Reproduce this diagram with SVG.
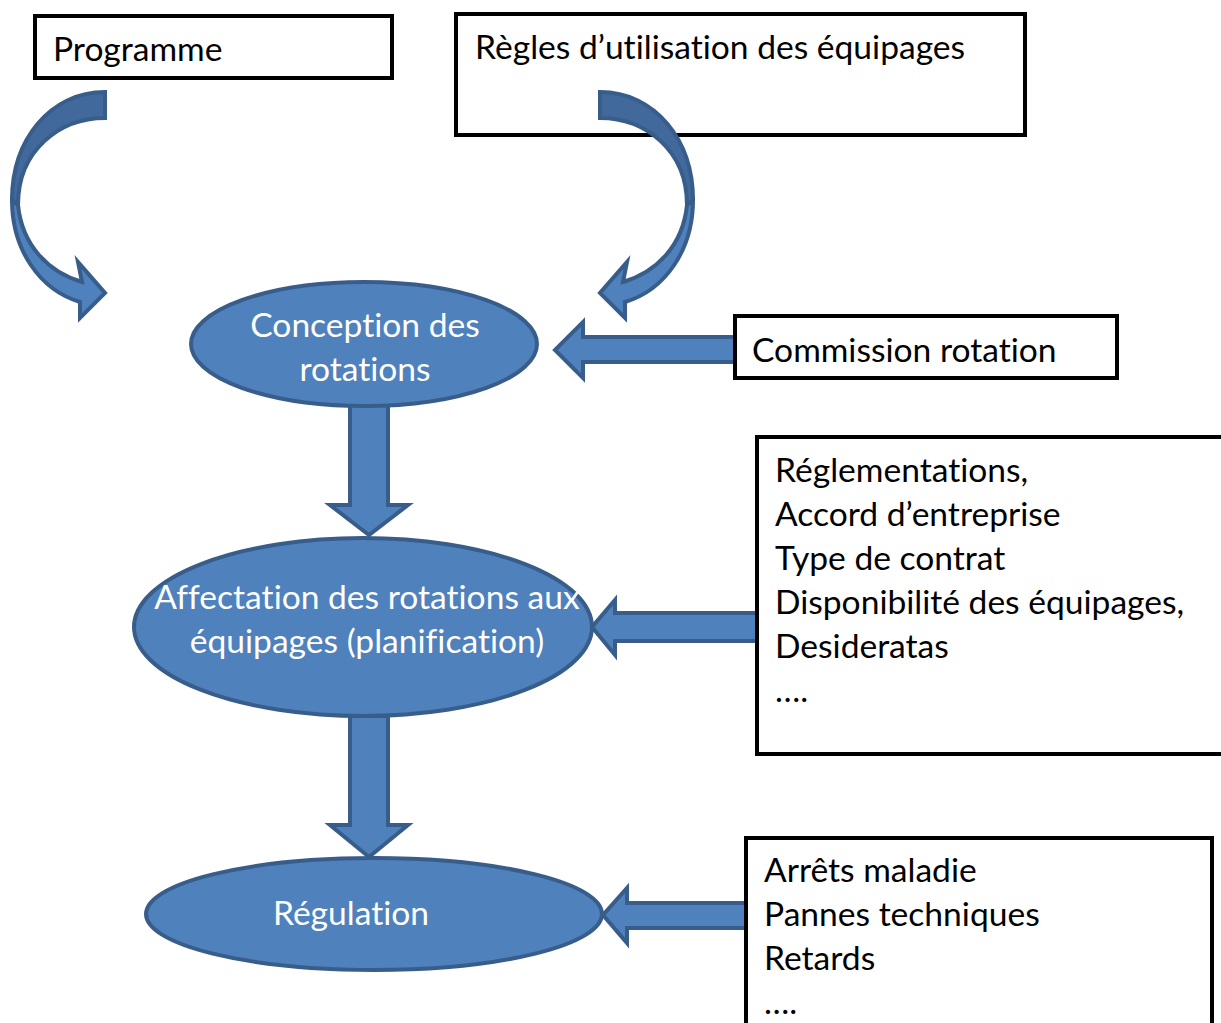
<svg xmlns="http://www.w3.org/2000/svg" width="1221" height="1023" viewBox="0 0 1221 1023">
  <style>
    .box { fill: #ffffff; stroke: #000000; stroke-width: 4; }
    .lbl { font-family: Lato, "Open Sans", sans-serif; font-size: 33.6px; fill: #000000; font-variant-ligatures: none; }
    .in { font-family: Lato, "Open Sans", sans-serif; font-size: 33.6px; fill: #ffffff; text-anchor: middle; font-variant-ligatures: none; }
    .ell { fill: #4f81bd; stroke: #385d8a; stroke-width: 4; }
    .arr { fill: #4f81bd; stroke: #385d8a; stroke-width: 4; stroke-linejoin: miter; }
    .arrdark { fill: #41699c; stroke: #385d8a; stroke-width: 4; }
  </style>
  <rect width="1221" height="1023" fill="#ffffff"/>

  <!-- input boxes -->
  <g id="programme">
    <rect class="box" x="35" y="16" width="357" height="62"/>
    <text class="lbl" x="53" y="61">Programme</text>
  </g>
  <g id="regles">
    <rect class="box" x="456" y="14" width="569" height="121"/>
    <text class="lbl" x="475" y="59">Règles d’utilisation des équipages</text>
  </g>

  <!-- connectors -->
  <g id="connectors">
    <!-- curved arrow from Programme -->
    <g id="curve-left">
      <path class="arr" d="M18,205 C22,245 48,272 82,282 L78,262 L105,293 L80,318 L80,302 C40,290 12,250 12,200 Z"/>
      <path class="arrdark" d="M105,92 C50,92 12,140 12,200 L18,205 C18,150 60,118 105,118 Z"/>
    </g>
    <!-- curved arrow from Règles (mirrored) -->
    <g id="curve-right" transform="translate(705,0) scale(-1,1)">
      <path class="arr" d="M18,205 C22,245 48,272 82,282 L78,262 L105,293 L80,318 L80,302 C40,290 12,250 12,200 Z"/>
      <path class="arrdark" d="M105,92 C50,92 12,140 12,200 L18,205 C18,150 60,118 105,118 Z"/>
    </g>
    <!-- Commission -> Conception -->
    <path class="arr" d="M735,337 L583,337 L583,322 L555,350 L583,378 L583,362 L735,362 Z"/>
    <!-- Réglementations -> Affectation -->
    <path class="arr" d="M760,613 L615,613 L615,600 L592,627 L615,655 L615,641 L760,641 Z"/>
    <!-- Aléas -> Régulation -->
    <path class="arr" d="M747,903 L627,903 L627,888 L603,915 L627,943 L627,928 L747,928 Z"/>
    <!-- Conception -> Affectation -->
    <path class="arr" d="M350,405 L350,505 L330,505 L369,535 L408,505 L388,505 L388,405 Z"/>
    <!-- Affectation -> Régulation -->
    <path class="arr" d="M350,716 L350,825 L330,825 L369,857 L408,825 L388,825 L388,716 Z"/>
  </g>

  <!-- process ellipses -->
  <g id="conception">
    <ellipse class="ell" cx="364" cy="344" rx="173" ry="62"/>
    <text class="in" x="365" y="337">Conception des</text>
    <text class="in" x="365" y="381">rotations</text>
  </g>
  <g id="affectation">
    <ellipse class="ell" cx="363" cy="627" rx="229" ry="89"/>
    <text class="in" x="367" y="609">Affectation des rotations aux</text>
    <text class="in" x="367" y="653">équipages (planification)</text>
  </g>
  <g id="regulation">
    <ellipse class="ell" cx="374" cy="914" rx="228" ry="56"/>
    <text class="in" x="351" y="925">Régulation</text>
  </g>

  <!-- side boxes -->
  <g id="commission">
    <rect class="box" x="735" y="316" width="382" height="62"/>
    <text class="lbl" x="752" y="362">Commission rotation</text>
  </g>
  <g id="contraintes">
    <rect class="box" x="757" y="437" width="470" height="317"/>
    <text class="lbl" x="775" y="482">Réglementations,</text>
    <text class="lbl" x="775" y="526">Accord d’entreprise</text>
    <text class="lbl" x="775" y="570">Type de contrat</text>
    <text class="lbl" x="775" y="614">Disponibilité des équipages,</text>
    <text class="lbl" x="775" y="658">Desideratas</text>
    <text class="lbl" x="775" y="702">….</text>
  </g>
  <g id="aleas">
    <rect class="box" x="746" y="838" width="466" height="200"/>
    <text class="lbl" x="764" y="882">Arrêts maladie</text>
    <text class="lbl" x="764" y="926">Pannes techniques</text>
    <text class="lbl" x="764" y="970">Retards</text>
    <text class="lbl" x="764" y="1014">….</text>
  </g>
</svg>
